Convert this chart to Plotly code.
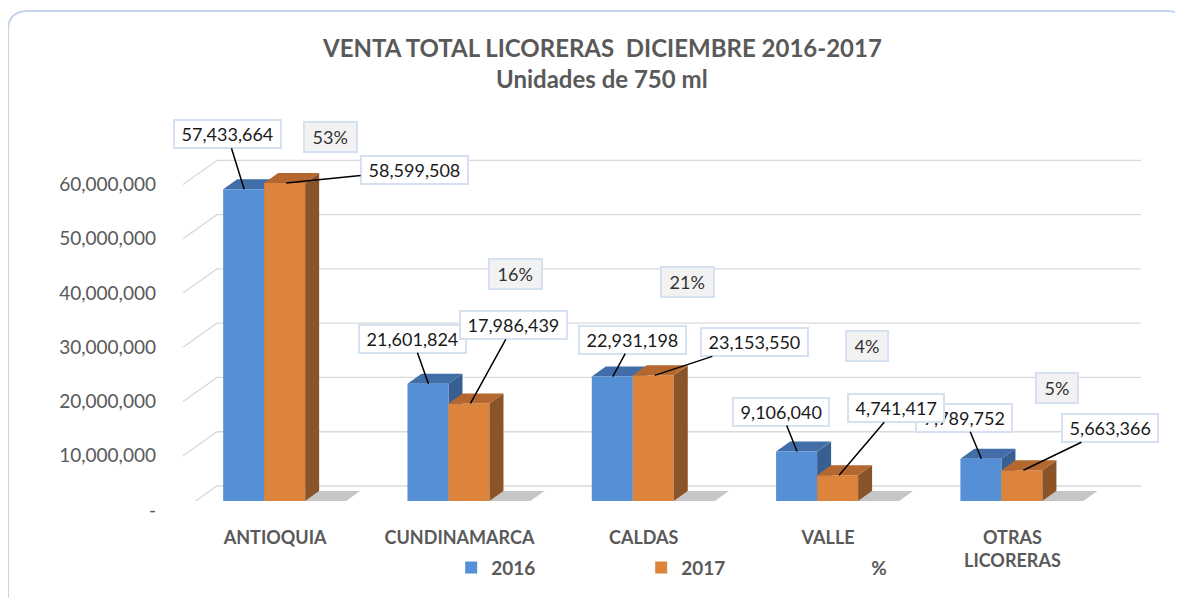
import plotly.graph_objects as go

# Datos
categorias = ["ANTIOQUIA", "CUNDINAMARCA", "CALDAS", "VALLE", "OTRAS<br>LICORERAS"]
ventas_2016 = [57433664, 21601824, 22931198, 9106040, 7789752]
ventas_2017 = [58599508, 17986439, 23153550, 4741417, 5663366]
participacion = ["53%", "16%", "21%", "4%", "5%"]
y_ticks = [0, 10000000, 20000000, 30000000, 40000000, 50000000, 60000000]
y_ticktext = ["-", "10,000,000", "20,000,000", "30,000,000", "40,000,000", "50,000,000", "60,000,000"]

# Layout / estilo (la pagina agrega 8px de margen al body)
PW, PH = 940, 371  # area de trazado
M_L, M_R, M_T, M_B = 164, 71, 124, 96
W, H = M_L + PW + M_R, M_T + PH + M_B
SCR_L, SCR_B = M_L + 8, M_T + 8 + PH  # esquina inferior izquierda del area en pantalla
Y_MAX = 68000000
X_RANGE = [-0.5, 4.6]
PX_X = PW / (X_RANGE[1] - X_RANGE[0])
PX_Y = PH / Y_MAX
BAR_PX = 41
DX, DY = 14, 10  # profundidad 3D en pixeles
DV = DY / PX_Y

BLUE, BLUE_TOP, BLUE_SIDE = "#5590d6", "#416ea8", "#375f92"
ORANGE, ORANGE_TOP, ORANGE_SIDE = "#dc833c", "#b4672e", "#8b5428"
SHADOW = "#c6c6c6"
GRID = "#d9d9d9"
TXT = "#595959"
BOX_LINE = "#d5e1f1"
FONT = "Lato"

# posiciones de etiquetas (pixeles)
tip16_dx, tip17_dx = -20, 22
ax16 = [-17, -16, 20, -16, -17]
ay16 = [-55, -45, -37, -40, -41]
ax17 = [128, 43, 100, 57, 87]
ay17 = [-13, -78, -33, -67, -42]
pct_dx = [66, 67, 55, 50, 56]
pct_y = [67.0e6, 41.8e6, 40.4e6, 28.6e6, 20.9e6]

x_pos = list(range(len(categorias)))

fig = go.Figure()
fig.add_trace(go.Bar(x=x_pos, y=ventas_2016, name="2016", marker=dict(color=BLUE, line=dict(width=0))))
fig.add_trace(go.Bar(x=x_pos, y=ventas_2017, name="2017", marker=dict(color=ORANGE, line=dict(width=0))))
fig.add_trace(go.Scatter(x=[None], y=[None], mode="markers", name="%",
                         marker=dict(color="rgba(0,0,0,0)")))

shapes = []
# lineas de cuadricula en perspectiva
for v in y_ticks:
    shapes.append(dict(type="path", xref="paper", yref="y", xsizemode="pixel", ysizemode="pixel",
                       xanchor=0, yanchor=v, layer="below",
                       path="M 11,-9 L 45,15 L 969,15", line=dict(color=GRID, width=1.3)))

for i in x_pos:
    v16, v17 = ventas_2016[i], ventas_2017[i]
    # sombra en el piso
    shapes.append(dict(type="path", xref="x", yref="y", xsizemode="pixel", ysizemode="pixel",
                       xanchor=i, yanchor=0, layer="below",
                       path=f"M {BAR_PX},0 L {BAR_PX + DX},{DY} L {BAR_PX + 55},{DY} L {BAR_PX + 41},0 Z",
                       fillcolor=SHADOW, line=dict(width=0)))
    # cara lateral y superior 2016
    shapes.append(dict(type="path", xref="x", yref="y", xsizemode="pixel", xanchor=i, layer="below",
                       path=f"M 0,{v16} L {DX},{v16 + DV} L {DX},{DV} L 0,0 Z",
                       fillcolor=BLUE_SIDE, line=dict(width=0)))
    shapes.append(dict(type="path", xref="x", yref="y", xsizemode="pixel", ysizemode="pixel",
                       xanchor=i, yanchor=v16, layer="below",
                       path=f"M {-BAR_PX},0 L {-BAR_PX + DX},{DY} L {DX},{DY} L 0,0 Z",
                       fillcolor=BLUE_TOP, line=dict(width=0)))
    # cara lateral y superior 2017
    shapes.append(dict(type="path", xref="x", yref="y", xsizemode="pixel", xanchor=i, layer="above",
                       path=f"M {BAR_PX},{v17} L {BAR_PX + DX},{v17 + DV} L {BAR_PX + DX},{DV} L {BAR_PX},0 Z",
                       fillcolor=ORANGE_SIDE, line=dict(width=0)))
    shapes.append(dict(type="path", xref="x", yref="y", xsizemode="pixel", ysizemode="pixel",
                       xanchor=i, yanchor=v17, layer="above",
                       path=f"M 0,0 L {DX},{DY} L {BAR_PX + DX},{DY} L {BAR_PX},0 Z",
                       fillcolor=ORANGE_TOP, line=dict(width=0)))

# borde redondeado del grafico
shapes.append(dict(type="path", xref="paper", yref="paper", xsizemode="pixel", ysizemode="pixel",
                   xanchor=0, yanchor=0, layer="below",
                   path="M -164,-97 L -164,470 Q -164,490 -144,490 L 996,490 Q 1012,490 1012,474 L 1012,-97",
                   line=dict(color="#c5d6ec", width=2)))

title_x = (602 - SCR_L) / PW
annotations = [
    dict(xref="paper", yref="paper", x=title_x, y=(SCR_B - 47) / PH, yanchor="middle",
         text="<b>VENTA TOTAL LICORERAS  DICIEMBRE 2016-2017</b>", showarrow=False,
         font=dict(family=FONT, size=24, color=TXT)),
    dict(xref="paper", yref="paper", x=title_x, y=(SCR_B - 78) / PH, yanchor="middle",
         text="<b>Unidades de 750 ml</b>", showarrow=False,
         font=dict(family=FONT, size=24, color=TXT)),
]

lbl = dict(font=dict(family=FONT, size=18, color="#1a1a1a"), bgcolor="white",
           bordercolor=BOX_LINE, borderwidth=2, borderpad=2,
           showarrow=True, arrowhead=0, arrowwidth=1.5, arrowcolor="black", standoff=0)
for i in x_pos:
    annotations.append(dict(x=i, y=ventas_2016[i], xshift=tip16_dx, ax=ax16[i], ay=ay16[i],
                            text=f"\u00a0{ventas_2016[i]:,}\u00a0", **lbl))
for i in x_pos:
    annotations.append(dict(x=i, y=ventas_2017[i], xshift=tip17_dx, ax=ax17[i], ay=ay17[i],
                            text=f"\u00a0{ventas_2017[i]:,}\u00a0", **lbl))
for i in x_pos:
    annotations.append(dict(x=i, y=pct_y[i], xshift=pct_dx[i], showarrow=False,
                            text=f"\u00a0{participacion[i]}\u00a0",
                            font=dict(family=FONT, size=18, color="#333333"), bgcolor="#f2f2f2",
                            bordercolor=BOX_LINE, borderwidth=2, borderpad=3))

fig.update_layout(
    width=W, height=H,
    margin=dict(l=M_L, r=M_R, t=M_T, b=M_B),
    paper_bgcolor="white", plot_bgcolor="white",
    barmode="group", bargap=1 - 2 * BAR_PX / PX_X, bargroupgap=0,
    shapes=shapes, annotations=annotations,
    showlegend=True,
    legend=dict(orientation="h", x=0.297, xanchor="left", y=(SCR_B - 570) / PH, yanchor="middle",
                entrywidth=145, entrywidthmode="pixels", bgcolor="rgba(0,0,0,0)",
                font=dict(family=FONT, size=19, color=TXT, weight="bold")),
    hovermode=False,
    font=dict(family=FONT),
)
fig.update_xaxes(range=X_RANGE, tickvals=x_pos, ticktext=categorias, showgrid=False, zeroline=False,
                 showline=False, ticks="", ticklabelshift=11, ticklabelstandoff=24,
                 tickfont=dict(family=FONT, size=18, color=TXT, weight="bold"))
fig.update_yaxes(range=[0, Y_MAX], tickvals=y_ticks, ticktext=y_ticktext, showgrid=False, zeroline=False,
                 showline=False, ticks="", ticklabelshift=9, ticklabelstandoff=15,
                 tickfont=dict(family=FONT, size=19, color=TXT))

fig.write_html("out.html")
